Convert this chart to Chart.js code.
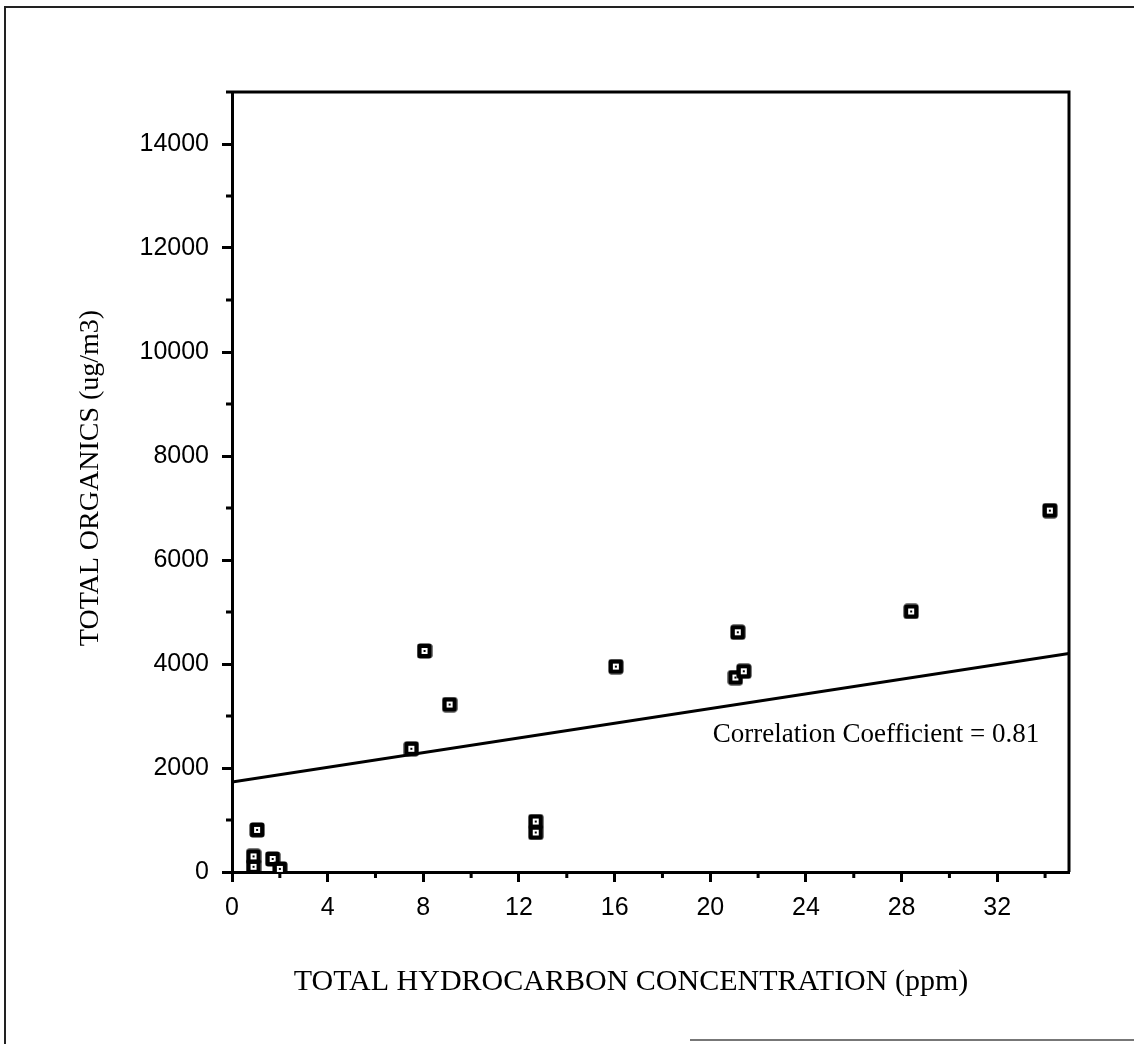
<!DOCTYPE html>
<html>
<head>
<meta charset="utf-8">
<script src="https://cdn.jsdelivr.net/npm/chart.js@4.4.1/dist/chart.umd.min.js"></script>
<style>
  html, body { margin: 0; padding: 0; background: #fff; }
  #wrap { width: 1134px; height: 1044px; position: relative; }
</style>
</head>
<body>
<div id="wrap"><canvas id="chart" width="1134" height="1044"></canvas></div>
<script>
// ---- data ----
const hcPpm      = [0.9, 0.9, 1.05, 1.7, 2.0, 7.5, 8.05, 9.1, 12.7, 12.7, 16.05, 21.05, 21.15, 21.4, 28.4, 34.2];
const organicsUg = [100, 300, 810, 250, 60, 2370, 4250, 3220, 760, 970, 3950, 3740, 4610, 3860, 5010, 6950];
const fitX = [0, 35];
const fitY = [1730, 4200];
const xTicks = [0, 4, 8, 12, 16, 20, 24, 28, 32];
const yTicks = [0, 2000, 4000, 6000, 8000, 10000, 12000, 14000];
const xTitle = "TOTAL HYDROCARBON CONCENTRATION (ppm)";
const yTitle = "TOTAL ORGANICS (ug/m3)";
const note = "Correlation Coefficient = 0.81";
const noteAt = [20.1, 2500];

Chart.defaults.font.family = "'Liberation Sans', Arial, sans-serif";
Chart.defaults.color = "#000";

// marker: black rounded square with a small white window and dot
function makeMarker() {
  const c = document.createElement('canvas');
  c.width = 16; c.height = 16;
  const g = c.getContext('2d');
  g.fillStyle = '#000';
  g.beginPath(); g.roundRect(0.5, 0.5, 15, 15, 3); g.fill();
  g.fillStyle = '#fff';
  g.fillRect(5, 5, 6, 6);
  g.fillStyle = '#000';
  g.fillRect(7, 7, 2, 2);
  return c;
}

// frame, plot box, minor ticks and texts
const decor = {
  id: 'decor',
  afterDraw(chart) {
    const { ctx, chartArea: a, scales } = chart;
    const sx = scales.x, sy = scales.y;
    ctx.save();
    ctx.strokeStyle = '#000';
    ctx.lineWidth = 3;
    // top + right of plot box
    ctx.beginPath();
    ctx.moveTo(a.left - 6, a.top);
    ctx.lineTo(a.right, a.top);
    ctx.lineTo(a.right, a.bottom);
    ctx.stroke();

    // minor ticks
    ctx.beginPath();
    for (let v = 2; v < 35; v += 4) {
      const px = sx.getPixelForValue(v);
      ctx.moveTo(px, a.bottom); ctx.lineTo(px, a.bottom + 6);
    }
    for (let v = 1000; v < 15000; v += 2000) {
      const py = sy.getPixelForValue(v);
      ctx.moveTo(a.left, py); ctx.lineTo(a.left - 6, py);
    }
    ctx.stroke();

    // page frame (scan border)
    ctx.lineWidth = 2;
    ctx.strokeStyle = '#222';
    ctx.beginPath();
    ctx.moveTo(5, 1044); ctx.lineTo(5, 7); ctx.lineTo(1134, 7);
    ctx.stroke();
    ctx.strokeStyle = '#777';
    ctx.beginPath();
    ctx.moveTo(690, 1040); ctx.lineTo(1134, 1040);
    ctx.stroke();

    // texts
    ctx.fillStyle = '#000';
    ctx.font = "27px 'Liberation Serif', 'Times New Roman', serif";
    ctx.textBaseline = 'alphabetic';
    ctx.textAlign = 'left';
    ctx.fillText(note, sx.getPixelForValue(noteAt[0]), sy.getPixelForValue(noteAt[1]));

    ctx.font = "30px 'Liberation Serif', 'Times New Roman', serif";
    ctx.textAlign = 'center';
    ctx.fillText(xTitle, 631, 990);

    ctx.font = "28px 'Liberation Serif', 'Times New Roman', serif";
    ctx.translate(98, 478);
    ctx.rotate(-Math.PI / 2);
    ctx.fillText(yTitle, 0, 0);
    ctx.restore();
  }
};

new Chart(document.getElementById('chart'), {
  type: 'scatter',
  data: {
    datasets: [
      {
        label: 'samples',
        data: hcPpm.map((x, i) => ({ x, y: organicsUg[i] })),
        pointStyle: makeMarker(),
        pointRadius: 8,
        pointHoverRadius: 8
      },
      {
        type: 'line',
        label: 'fit',
        data: fitX.map((x, i) => ({ x, y: fitY[i] })),
        borderColor: '#000',
        borderWidth: 3,
        pointRadius: 0,
        fill: false
      }
    ]
  },
  plugins: [decor],
  options: {
    responsive: false,
    animation: false,
    layout: { padding: { left: 0, top: 92, right: 65, bottom: 0 } },
    plugins: { legend: { display: false }, tooltip: { enabled: false } },
    scales: {
      x: {
        type: 'linear',
        min: 0, max: 35,
        afterFit: s => { s.height = 172; },
        afterBuildTicks: s => { s.ticks = xTicks.map(v => ({ value: v })); },
        ticks: { font: { size: 25 }, padding: 11, maxRotation: 0, color: '#000' },
        grid: { drawOnChartArea: false, drawTicks: true, tickLength: 10, tickWidth: 3, color: '#000' },
        border: { display: true, width: 3, color: '#000' }
      },
      y: {
        type: 'linear',
        min: 0, max: 15000,
        afterFit: s => { s.width = 232; },
        afterBuildTicks: s => { s.ticks = yTicks.map(v => ({ value: v })); },
        ticks: { font: { size: 25 }, padding: 13, color: '#000', callback: v => String(v) },
        grid: { drawOnChartArea: false, drawTicks: true, tickLength: 10, tickWidth: 3, color: '#000' },
        border: { display: true, width: 3, color: '#000' }
      }
    }
  }
});
</script>
</body>
</html>
